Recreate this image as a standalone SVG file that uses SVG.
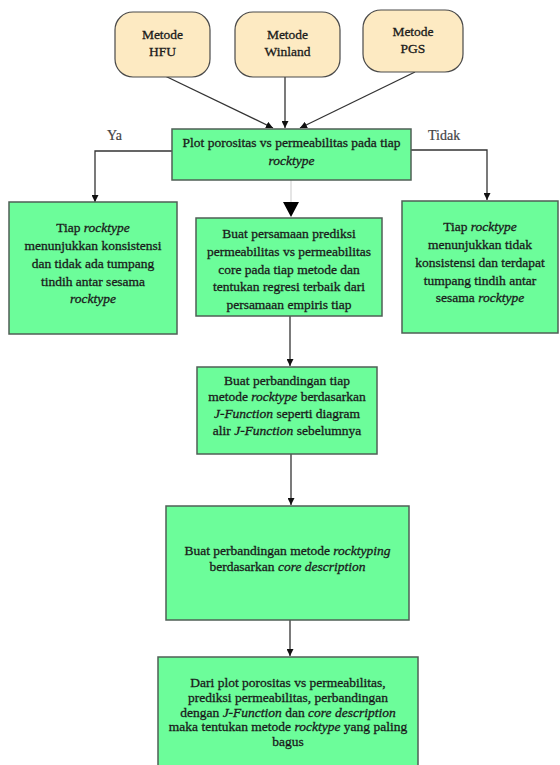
<svg xmlns="http://www.w3.org/2000/svg" width="560" height="765" viewBox="0 0 560 765">
<defs>
<style>
.t{font-family:"Liberation Serif","Times New Roman",serif;font-size:13.5px;fill:#1a1a1a;stroke:#1a1a1a;stroke-width:0.3;text-anchor:middle}
.i{font-style:italic}
.lbl{font-family:"Liberation Serif","Times New Roman",serif;font-size:14px;fill:#444;stroke:#444;stroke-width:0.2}
.start{fill:#fdeac2;stroke:#4a4a4a;stroke-width:1.2}
.proc{fill:#6cfd9a;stroke:#4f5f55;stroke-width:1.5}
.c{fill:none;stroke:#333;stroke-width:1.3}
</style>
<marker id="ah" viewBox="0 0 10 10" refX="10" refY="5" markerWidth="7" markerHeight="7" markerUnits="userSpaceOnUse" orient="auto">
<path d="M0,0 L10,5 L0,10 z" fill="#111"/>
</marker>
</defs>
<rect width="560" height="765" fill="#fff"/>

<g id="connectors">
<line class="c" x1="163" y1="75" x2="273" y2="128" marker-end="url(#ah)"/>
<line class="c" x1="285" y1="77" x2="285" y2="128" marker-end="url(#ah)"/>
<line class="c" x1="415" y1="72" x2="300" y2="128" marker-end="url(#ah)"/>
<polyline class="c" points="172,151 95,151 95,202" marker-end="url(#ah)"/>
<polyline class="c" points="411,150 487,150 487,200" marker-end="url(#ah)"/>
<line x1="291" y1="180" x2="291" y2="203" stroke="#dcdcdc" stroke-width="1.5"/>
<path d="M283,202 L299,202 L291,217 z" fill="#000"/>
<line class="c" x1="290" y1="316" x2="290" y2="366" marker-end="url(#ah)"/>
<line class="c" x1="291" y1="454" x2="291" y2="505" marker-end="url(#ah)"/>
<line class="c" x1="290" y1="620" x2="290" y2="656" marker-end="url(#ah)"/>
<text class="lbl" x="107" y="140">Ya</text>
<text class="lbl" x="428" y="140">Tidak</text>
</g>

<g id="hfu">
<rect class="start" x="115" y="12" width="95" height="65" rx="18" ry="18"/>
<text class="t" x="162.5" y="39">Metode</text>
<text class="t" x="162.5" y="56">HFU</text>
</g>
<g id="winland">
<rect class="start" x="235" y="12" width="105" height="65" rx="18" ry="18"/>
<text class="t" x="287.5" y="39">Metode</text>
<text class="t" x="287.5" y="56">Winland</text>
</g>
<g id="pgs">
<rect class="start" x="363" y="10" width="100" height="62" rx="18" ry="18"/>
<text class="t" x="413" y="36">Metode</text>
<text class="t" x="413" y="53">PGS</text>
</g>

<g id="plot">
<rect class="proc" x="172" y="129" width="239" height="51"/>
<text class="t" x="291.5" y="147">Plot porositas vs permeabilitas pada tiap</text>
<text class="t i" x="291.5" y="165">rocktype</text>
</g>

<g id="ya-box">
<rect class="proc" x="9" y="202" width="168" height="132"/>
<text class="t" x="93" y="232">Tiap <tspan class="i">rocktype</tspan></text>
<text class="t" x="93" y="250">menunjukkan konsistensi</text>
<text class="t" x="93" y="268">dan tidak ada tumpang</text>
<text class="t" x="93" y="286">tindih antar sesama</text>
<text class="t i" x="93" y="303">rocktype</text>
</g>

<g id="prediksi">
<rect class="proc" x="196" y="218" width="186" height="98"/>
<text class="t" x="289" y="238">Buat persamaan prediksi</text>
<text class="t" x="289" y="256">permeabilitas vs permeabilitas</text>
<text class="t" x="289" y="274">core pada tiap metode dan</text>
<text class="t" x="289" y="291">tentukan regresi terbaik dari</text>
<text class="t" x="289" y="309">persamaan empiris tiap</text>
</g>

<g id="tidak-box">
<rect class="proc" x="402" y="201" width="156" height="132"/>
<text class="t" x="480" y="231">Tiap <tspan class="i">rocktype</tspan></text>
<text class="t" x="480" y="249">menunjukkan tidak</text>
<text class="t" x="480" y="267">konsistensi dan terdapat</text>
<text class="t" x="480" y="285">tumpang tindih antar</text>
<text class="t" x="480" y="302">sesama <tspan class="i">rocktype</tspan></text>
</g>

<g id="jfunction">
<rect class="proc" x="197" y="367" width="180" height="87"/>
<text class="t" x="287" y="385">Buat perbandingan tiap</text>
<text class="t" x="287" y="401">metode <tspan class="i">rocktype</tspan> berdasarkan</text>
<text class="t" x="287" y="418"><tspan class="i">J-Function</tspan> seperti diagram</text>
<text class="t" x="287" y="435">alir <tspan class="i">J-Function</tspan> sebelumnya</text>
</g>

<g id="core">
<rect class="proc" x="166" y="506" width="243" height="114"/>
<text class="t" x="287.5" y="555">Buat perbandingan metode <tspan class="i">rocktyping</tspan></text>
<text class="t" x="287.5" y="571">berdasarkan <tspan class="i">core description</tspan></text>
</g>

<g id="final">
<rect class="proc" x="158" y="657" width="260" height="115"/>
<text class="t" x="288" y="687">Dari plot porositas vs permeabilitas,</text>
<text class="t" x="288" y="702">prediksi permeabilitas, perbandingan</text>
<text class="t" x="288" y="717">dengan <tspan class="i">J-Function</tspan> dan <tspan class="i">core description</tspan></text>
<text class="t" x="288" y="731">maka tentukan metode <tspan class="i">rocktype</tspan> yang paling</text>
<text class="t" x="288" y="746">bagus</text>
</g>
</svg>
